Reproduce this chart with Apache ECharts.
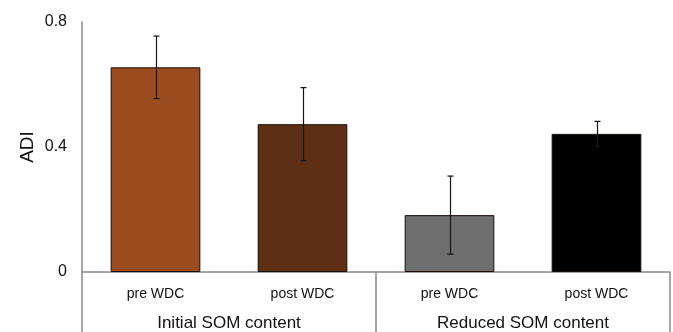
<!DOCTYPE html>
<html>
<head>
<meta charset="utf-8">
<script src="https://cdn.jsdelivr.net/npm/echarts@6/dist/echarts.min.js"></script>
<style>html,body{margin:0;padding:0;background:#fff;}#c{width:673px;height:332px;}</style>
</head>
<body>
<div id="c"></div>
<script>
var categories = ['pre WDC', 'post WDC', 'pre WDC', 'post WDC'];
var groups = ['Initial SOM content', 'Reduced SOM content'];
var values = [0.655, 0.473, 0.182, 0.442];
var errors = [0.100, 0.117, 0.125, 0.040];
var colors = ['#9B4C1F', '#5D2F15', '#6E6E6E', '#000000'];
var yTicks = [0, 0.4, 0.8];

var chart = echarts.init(document.getElementById('c'));
var font = 'Liberation Sans, Arial, sans-serif';
chart.setOption({
  animation: false,
  grid: {left: 82, right: 3, top: 22, bottom: 60},
  xAxis: [{
    type: 'category', data: categories, position: 'bottom',
    axisLine: {show: true, lineStyle: {color: '#888', width: 1.5}},
    axisTick: {show: false},
    axisLabel: {color: '#111', fontSize: 14, fontFamily: font, margin: 15}
  }, {
    type: 'category', data: groups, position: 'bottom',
    axisLine: {show: false},
    axisTick: {show: true, length: 62, lineStyle: {color: '#888', width: 1.5}},
    axisLabel: {color: '#111', fontSize: 17, fontFamily: font, margin: 43}
  }],
  yAxis: {
    type: 'value', min: 0, max: 0.8, interval: 0.4,
    name: 'ADI', nameLocation: 'middle', nameGap: 45, nameRotate: 90,
    nameMoveOverlap: false,
    nameTextStyle: {color: '#111', fontSize: 19, fontFamily: font},
    axisLine: {show: true, lineStyle: {color: '#888', width: 1.5}},
    axisTick: {show: false},
    splitLine: {show: false},
    axisLabel: {color: '#111', fontSize: 16, fontFamily: font, margin: 15,
      formatter: function (v) { return yTicks.indexOf(v) >= 0 ? String(v) : ''; }}
  },
  series: [{
    type: 'bar', xAxisIndex: 0, barCategoryGap: '39%',
    data: values.map(function (v, i) {
      return {value: v, itemStyle: {color: colors[i], borderColor: '#1a0d05', borderWidth: 1}};
    })
  }, {
    type: 'custom', xAxisIndex: 0, z: 10,
    data: values.map(function (v, i) { return [i, v - errors[i], v + errors[i]]; }),
    renderItem: function (params, api) {
      var lo = api.coord([api.value(0), api.value(1)]);
      var hi = api.coord([api.value(0), api.value(2)]);
      var x = Math.round(lo[0]) + 0.5, w = 3;
      var st = {stroke: '#151515', lineWidth: 1.2};
      return {type: 'group', children: [
        {type: 'line', shape: {x1: x, y1: hi[1], x2: x, y2: lo[1]}, style: st},
        {type: 'line', shape: {x1: x - w, y1: hi[1], x2: x + w, y2: hi[1]}, style: st},
        {type: 'line', shape: {x1: x - w, y1: lo[1], x2: x + w, y2: lo[1]}, style: st}
      ]};
    }
  }]
});
</script>
</body>
</html>
